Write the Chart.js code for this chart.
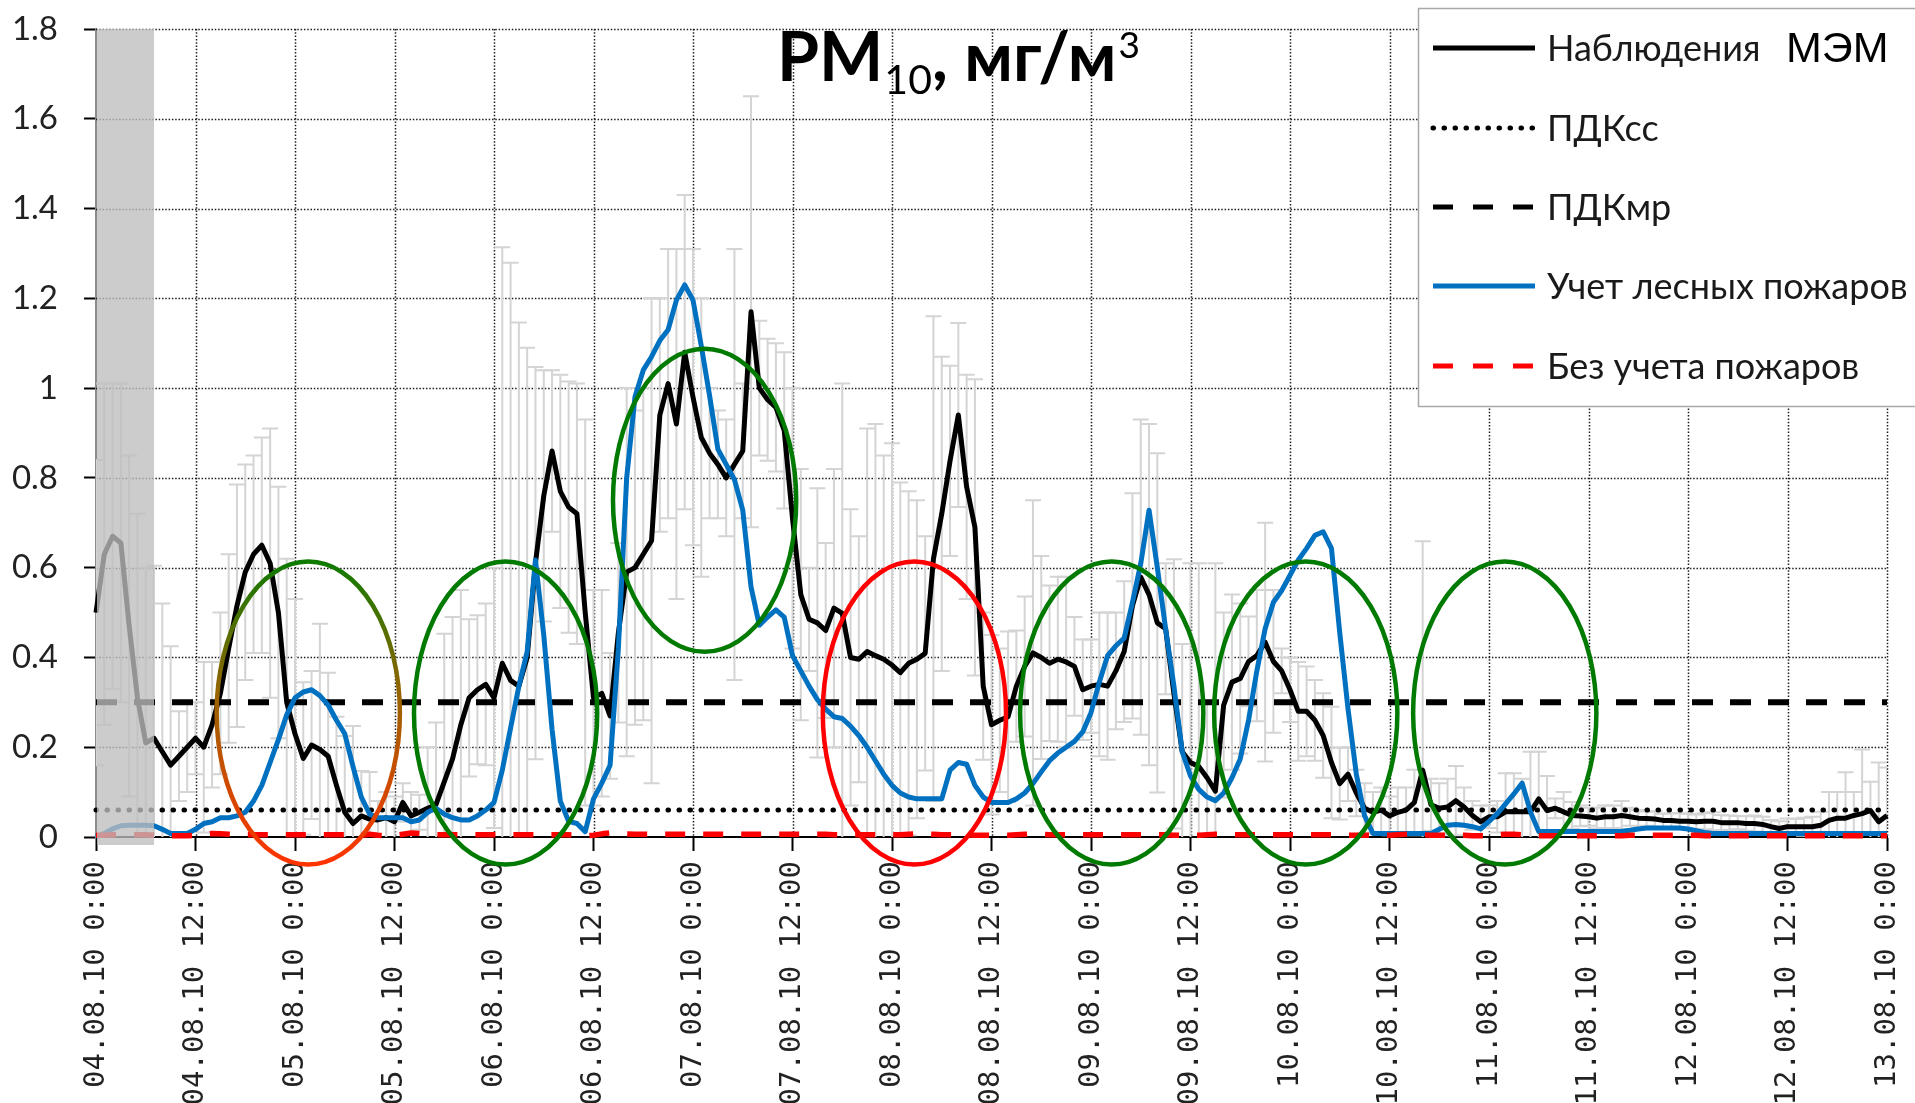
<!DOCTYPE html>
<html><head><meta charset="utf-8">
<script src="https://cdn.jsdelivr.net/npm/chart.js@4.4.1/dist/chart.umd.min.js"></script>
<style>html,body{margin:0;padding:0;background:#fff;overflow:hidden}#wrap{width:1915px;height:1103px;position:relative}</style>
</head><body><div id="wrap"><canvas id="c" width="1915" height="1103"></canvas></div>
<script>
// ---------------- DATA ----------------
const tickLabels = ['04.08.10 0:00','04.08.10 12:00','05.08.10 0:00','05.08.10 12:00','06.08.10 0:00','06.08.10 12:00',
  '07.08.10 0:00','07.08.10 12:00','08.08.10 0:00','08.08.10 12:00','09.08.10 0:00','09.08.10 12:00',
  '10.08.10 0:00','10.08.10 12:00','11.08.10 0:00','11.08.10 12:00','12.08.10 0:00','12.08.10 12:00','13.08.10 0:00'];
const xTickHours = [0,12,24,36,48,60,72,84,96,108,120,132,144,156,168,180,192,204,216];
const yTickValues = [0,0.2,0.4,0.6,0.8,1,1.2,1.4,1.6,1.8];
const seriesNames = ['Наблюдения','ПДКсс','ПДКмр','Учет лесных пожаров','Без учета пожаров'];
const titleParts = ['PM','10',', мг/м','3'];
const modelLabel = 'МЭМ';

// hourly observations (black)
const obs = [
 0.50,0.63,0.67,0.655,0.47,0.31,0.21,0.22,0.19,0.16,0.18,0.20,
 0.22,0.20,0.25,0.32,0.42,0.515,0.59,0.63,0.65,0.61,0.50,0.30,
 0.23,0.175,0.205,0.195,0.18,0.115,0.055,0.03,0.047,0.04,0.038,0.043,
 0.034,0.077,0.047,0.055,0.064,0.072,0.123,0.174,0.25,0.31,0.328,0.34,
 0.31,0.387,0.349,0.336,0.40,0.61,0.76,0.86,0.77,0.735,0.72,0.50,
 0.31,0.32,0.27,0.455,0.59,0.60,0.63,0.66,0.94,1.01,0.92,1.08,
 0.98,0.89,0.855,0.83,0.80,0.83,0.86,1.17,1.00,0.974,0.957,0.906,
 0.71,0.54,0.485,0.477,0.46,0.51,0.498,0.40,0.396,0.413,0.404,0.396,
 0.383,0.366,0.387,0.396,0.409,0.62,0.72,0.838,0.94,0.78,0.69,0.336,
 0.25,0.26,0.268,0.336,0.38,0.41,0.40,0.387,0.396,0.39,0.38,0.328,
 0.336,0.34,0.336,0.37,0.413,0.515,0.579,0.54,0.477,0.464,0.319,0.19,
 0.166,0.157,0.132,0.102,0.294,0.345,0.353,0.391,0.404,0.434,0.391,0.37,
 0.328,0.28,0.28,0.26,0.226,0.166,0.119,0.14,0.098,0.064,0.055,0.06,
 0.047,0.055,0.06,0.077,0.149,0.072,0.064,0.067,0.081,0.067,0.048,0.034,
 0.045,0.045,0.056,0.057,0.056,0.056,0.085,0.059,0.064,0.056,0.048,0.047,
 0.045,0.042,0.045,0.045,0.048,0.045,0.042,0.041,0.04,0.037,0.037,0.035,
 0.035,0.034,0.035,0.035,0.032,0.032,0.032,0.03,0.03,0.028,0.023,0.019,
 0.023,0.023,0.023,0.023,0.026,0.037,0.042,0.042,0.048,0.052,0.059,0.034,
 0.048];
// error half-widths of observations (grey bars)
const obsErr = [
 0.34,0.38,0.34,0.355,0.38,0.41,0.39,0.384,0.33,0.265,0.10,0.10,
 0.08,0.19,0.14,0.18,0.21,0.27,0.24,0.22,0.24,0.30,0.28,0.32,
 0.30,0.17,0.165,0.28,0.186,0.153,0.17,0.217,0.10,0.105,0.042,0.057,
 0.056,0.043,0.053,0.039,0.136,0.183,0.33,0.316,0.30,0.175,0.166,0.18,
 0.29,0.927,0.93,0.81,0.69,0.437,0.28,0.18,0.26,0.28,0.29,0.43,
 0.24,0.23,0.14,0.20,0.41,0.35,0.37,0.54,0.26,0.30,0.39,0.35,
 0.33,0.31,0.145,0.12,0.13,0.48,0.15,0.48,0.15,0.136,0.143,0.174,
 0.29,0.28,0.115,0.30,0.195,0.31,0.512,0.33,0.274,0.497,0.516,0.454,
 0.494,0.424,0.383,0.354,0.261,0.54,0.35,0.212,0.205,0.25,0.33,0.164,
 0.20,0.16,0.19,0.124,0.156,0.34,0.226,0.173,0.184,0.19,0.11,0.112,
 0.104,0.16,0.164,0.13,0.157,0.251,0.351,0.38,0.378,0.146,0.30,0.24,
 0.444,0.453,0.17,0.508,0.206,0.195,0.167,0.10,0.146,0.266,0.159,0.05,
 0.072,0.11,0.10,0.09,0.094,0.124,0.08,0.06,0.052,0.056,0.045,0.05,
 0.043,0.055,0.05,0.073,0.51,0.058,0.056,0.063,0.077,0.043,0.032,0.036,
 0.025,0.035,0.086,0.085,0.074,0.134,0.105,0.077,0.022,0.044,0.03,0.023,
 0.02,0.023,0.025,0.025,0.032,0.02,0.018,0.016,0.017,0.015,0.016,0.018,
 0.017,0.016,0.018,0.02,0.017,0.016,0.015,0.016,0.018,0.017,0.015,0.016,
 0.018,0.017,0.02,0.022,0.03,0.063,0.058,0.102,0.052,0.143,0.064,0.132,
 0.107];
// model with forest fires (blue)
const fire = [
 0.0,0.008,0.018,0.025,0.026,0.026,0.026,0.025,0.017,0.008,0.008,0.008,
 0.017,0.03,0.034,0.043,0.043,0.047,0.055,0.08,0.115,0.166,0.217,0.272,
 0.31,0.323,0.328,0.315,0.294,0.26,0.23,0.157,0.089,0.051,0.043,0.043,
 0.043,0.043,0.034,0.038,0.055,0.064,0.051,0.043,0.038,0.038,0.047,0.06,
 0.077,0.149,0.243,0.336,0.413,0.617,0.45,0.24,0.08,0.035,0.03,0.012,
 0.085,0.12,0.16,0.42,0.80,0.98,1.04,1.07,1.106,1.13,1.196,1.23,
 1.196,1.094,0.983,0.864,0.83,0.796,0.728,0.557,0.472,0.49,0.506,0.49,
 0.404,0.37,0.336,0.306,0.285,0.268,0.264,0.247,0.226,0.2,0.17,0.14,
 0.115,0.098,0.089,0.085,0.085,0.085,0.085,0.149,0.166,0.162,0.115,0.089,
 0.077,0.077,0.077,0.085,0.098,0.119,0.145,0.17,0.187,0.2,0.213,0.234,
 0.277,0.345,0.404,0.426,0.443,0.523,0.609,0.728,0.60,0.464,0.336,0.19,
 0.136,0.106,0.089,0.081,0.098,0.132,0.174,0.26,0.37,0.464,0.523,0.549,
 0.583,0.617,0.643,0.672,0.68,0.643,0.455,0.285,0.14,0.047,0.008,0.008,
 0.008,0.008,0.008,0.008,0.008,0.008,0.017,0.026,0.028,0.026,0.023,0.018,
 0.035,0.052,0.074,0.096,0.12,0.056,0.012,0.012,0.012,0.012,0.012,0.012,
 0.012,0.012,0.012,0.012,0.013,0.015,0.018,0.02,0.02,0.02,0.02,0.02,
 0.018,0.014,0.01,0.008,0.008,0.008,0.008,0.008,0.008,0.008,0.008,0.008,
 0.008,0.008,0.008,0.008,0.008,0.008,0.008,0.008,0.008,0.008,0.008,0.008,
 0.008];
// model without fires (red)
const nofire = [
 0.004,0.004,0.005,0.005,0.005,0.005,0.005,0.004,0.003,0.003,0.003,0.003,
 0.004,0.006,0.008,0.007,0.006,0.005,0.005,0.005,0.005,0.005,0.005,0.005,
 0.005,0.005,0.005,0.005,0.005,0.005,0.005,0.005,0.004,0.006,0.004,0.003,
 0.003,0.006,0.009,0.008,0.006,0.005,0.005,0.005,0.005,0.005,0.005,0.005,
 0.005,0.005,0.005,0.005,0.005,0.005,0.005,0.005,0.005,0.005,0.004,0.003,
 0.004,0.007,0.009,0.008,0.007,0.006,0.006,0.006,0.006,0.006,0.006,0.006,
 0.006,0.006,0.006,0.006,0.006,0.006,0.006,0.006,0.006,0.006,0.006,0.006,
 0.006,0.006,0.006,0.006,0.006,0.005,0.005,0.005,0.005,0.005,0.005,0.005,
 0.005,0.005,0.006,0.007,0.007,0.006,0.005,0.005,0.005,0.005,0.004,0.004,
 0.004,0.004,0.004,0.005,0.006,0.007,0.006,0.005,0.005,0.005,0.005,0.005,
 0.005,0.005,0.005,0.005,0.005,0.005,0.005,0.005,0.005,0.005,0.004,0.004,
 0.004,0.004,0.005,0.006,0.006,0.005,0.005,0.005,0.005,0.005,0.005,0.005,
 0.005,0.005,0.005,0.005,0.005,0.005,0.005,0.004,0.004,0.004,0.004,0.004,
 0.004,0.005,0.006,0.006,0.005,0.004,0.004,0.004,0.004,0.004,0.003,0.003,
 0.003,0.005,0.006,0.006,0.005,0.004,0.003,0.003,0.003,0.003,0.003,0.003,
 0.003,0.003,0.003,0.003,0.003,0.004,0.004,0.004,0.004,0.004,0.004,0.004,
 0.004,0.004,0.003,0.003,0.003,0.003,0.003,0.003,0.003,0.003,0.003,0.003,
 0.003,0.003,0.003,0.003,0.003,0.003,0.003,0.003,0.003,0.003,0.003,0.003,
 0.003];
const PDK_SS = 0.06;
const PDK_MR = 0.3;
const shadeRange = [0, 7];           // shaded hours at start
// annotation ellipses (hour centre, value centre)
const ellipseHours  = [25.6, 49.4, 73.4, 98.7, 122.5, 145.9, 169.9];
const ellipseValues = [0.276, 0.276, 0.75, 0.276, 0.276, 0.276, 0.276];
const ellipseKinds  = ['mixed','green','green','red','green','green','green'];

// ---------------- STYLE ----------------
const hours = obs.map((_, i) => i);
const ELL_RX_H = 11.05, ELL_RY_V = 0.3375;
const FONT_UI = 'Lato, "Noto Sans", sans-serif';
const styles = [
  {color:'#000000', width:5,   dash:[],        cap:'butt'},
  {color:'#000000', width:5,   dash:[0.5,10.5], cap:'round'},
  {color:'#000000', width:6,   dash:[21,17],   cap:'butt'},
  {color:'#0070c0', width:5,   dash:[],        cap:'butt'},
  {color:'#ff0000', width:5.5, dash:[20,18],   cap:'butt'}
];

const bgPlugin = { id:'bg', beforeDraw(chart){ const c = chart.ctx; c.save(); c.fillStyle='#fff'; c.fillRect(0,0,chart.width,chart.height); c.restore(); } };

const gridPlugin = {
  id:'gridErr',
  beforeDatasetsDraw(chart){
    const {ctx, chartArea:a, scales:{x, y}} = chart;
    ctx.save();
    ctx.strokeStyle = '#1e1e1e'; ctx.lineWidth = 1.5; ctx.setLineDash([1.5,1.8]);
    yTickValues.forEach(v => { if (v <= 0) return; const py = Math.round(y.getPixelForValue(v)) + 0.5;
      ctx.beginPath(); ctx.moveTo(a.left, py); ctx.lineTo(a.right, py); ctx.stroke(); });
    xTickHours.forEach(h => { if (h <= 0) return; const px = Math.round(x.getPixelForValue(h)) + 0.5;
      ctx.beginPath(); ctx.moveTo(px, a.top); ctx.lineTo(px, a.bottom); ctx.stroke(); });
    ctx.restore();
    ctx.save();
    ctx.beginPath(); ctx.rect(a.left, a.top, a.right - a.left, a.bottom - a.top); ctx.clip();
    ctx.strokeStyle = '#d4d4d4'; ctx.lineWidth = 2;
    obs.forEach((v, i) => {
      const e = obsErr[i]; if (!e) return;
      const px = x.getPixelForValue(hours[i]);
      const t = y.getPixelForValue(v + e), b = y.getPixelForValue(v - e);
      ctx.beginPath();
      ctx.moveTo(px, t); ctx.lineTo(px, b);
      ctx.moveTo(px - 8, t); ctx.lineTo(px + 8, t);
      ctx.moveTo(px - 8, b); ctx.lineTo(px + 8, b);
      ctx.stroke();
    });
    ctx.restore();
  }
};

const overlayPlugin = {
  id:'overlay',
  afterDatasetsDraw(chart){
    const {ctx, chartArea:a, scales:{x, y}} = chart;
    ctx.save();
    ctx.fillStyle = 'rgba(190,190,190,0.78)';
    const x0 = x.getPixelForValue(shadeRange[0]) + 1, x1 = x.getPixelForValue(shadeRange[1]);
    ctx.fillRect(x0, a.top, x1 - x0, a.bottom + 8 - a.top);
    ellipseHours.forEach((h, i) => {
      const cx = x.getPixelForValue(h), cy = y.getPixelForValue(ellipseValues[i]);
      const rx = x.getPixelForValue(h + ELL_RX_H) - cx;
      const ry = cy - y.getPixelForValue(ellipseValues[i] + ELL_RY_V);
      let stroke;
      if (ellipseKinds[i] === 'mixed') {
        stroke = ctx.createLinearGradient(0, cy - ry, 0, cy + ry);
        stroke.addColorStop(0, '#0e7a00'); stroke.addColorStop(0.45, '#9a6400'); stroke.addColorStop(1, '#ff3300');
      } else stroke = ellipseKinds[i] === 'red' ? '#ff0000' : '#007a00';
      ctx.strokeStyle = stroke; ctx.lineWidth = 4.5;
      ctx.beginPath(); ctx.ellipse(cx, cy, rx, ry, 0, 0, Math.PI * 2); ctx.stroke();
    });
    ctx.restore();
  },
  afterDraw(chart){
    const ctx = chart.ctx;
    ctx.save();
    // title
    ctx.fillStyle = '#000'; ctx.textAlign = 'left'; ctx.textBaseline = 'alphabetic';
    let tx = 777;
    ctx.font = 'bold 68px ' + FONT_UI; ctx.fillText(titleParts[0], tx, 81); tx += ctx.measureText(titleParts[0]).width + 1;
    ctx.font = '41px ' + FONT_UI; ctx.fillText(titleParts[1], tx, 94); tx += ctx.measureText(titleParts[1]).width;
    ctx.font = 'bold 68px ' + FONT_UI; ctx.fillText(titleParts[2], tx, 81); tx += ctx.measureText(titleParts[2]).width + 2;
    ctx.font = '37px ' + FONT_UI; ctx.fillText(titleParts[3], tx, 58);
    // legend box
    ctx.fillStyle = '#fff'; ctx.fillRect(1418, 8, 500, 399);
    ctx.strokeStyle = '#a8a8a8'; ctx.lineWidth = 1.5; ctx.strokeRect(1418.5, 8.5, 500, 398);
    const ys = [48, 128, 207, 286, 366];
    seriesNames.forEach((name, i) => {
      const s = styles[i];
      ctx.save();
      ctx.strokeStyle = s.color; ctx.lineWidth = 5; ctx.lineCap = s.cap === 'round' ? 'round' : 'butt';
      ctx.setLineDash(i === 1 ? [0.5, 10.5] : (s.dash.length ? [20, 20] : []));
      ctx.beginPath(); ctx.moveTo(1433, ys[i]); ctx.lineTo(1535, ys[i]); ctx.stroke();
      ctx.restore();
      ctx.fillStyle = '#1a1a1a'; ctx.font = '36px ' + FONT_UI; ctx.textBaseline = 'middle';
      ctx.fillText(name, 1547, ys[i] + 1);
    });
    ctx.fillStyle = '#000'; ctx.textBaseline = 'alphabetic';
    ctx.font = '43px "Liberation Sans", Arial, sans-serif';
    ctx.fillText(modelLabel, 1786, 62);
    ctx.restore();
  }
};

const lineDs = (label, data, i, order) => ({
  label, data, order, borderColor: styles[i].color, borderWidth: styles[i].width,
  borderDash: styles[i].dash, borderCapStyle: styles[i].cap, borderJoinStyle: 'round',
  pointRadius: 0, tension: 0, fill: false, clip: false
});

new Chart(document.getElementById('c'), {
  type: 'line',
  data: {
    labels: hours,
    datasets: [
      lineDs(seriesNames[0], obs, 0, 3),
      lineDs(seriesNames[1], [{x: xTickHours[0], y: PDK_SS}, {x: xTickHours[xTickHours.length-1], y: PDK_SS}], 1, 4),
      lineDs(seriesNames[2], [{x: xTickHours[0], y: PDK_MR}, {x: xTickHours[xTickHours.length-1], y: PDK_MR}], 2, 2),
      lineDs(seriesNames[3], fire, 3, 1),
      lineDs(seriesNames[4], nofire, 4, 0)
    ]
  },
  options: {
    responsive: false, animation: false, devicePixelRatio: 1,
    layout: { padding: { top: 29, right: 28, left: 0, bottom: 0 } },
    plugins: { legend: { display: false }, title: { display: false }, tooltip: { enabled: false } },
    scales: {
      x: {
        type: 'linear', min: 0, max: 216,
        afterBuildTicks: s => { s.ticks = xTickHours.map(v => ({ value: v })); },
        afterFit: s => { s.height = 266; s.paddingLeft = 0; s.paddingRight = 0; },
        border: { color: '#000', width: 2 },
        grid: { drawOnChartArea: false, drawTicks: true, tickLength: 14, tickColor: '#000', tickWidth: 2 },
        ticks: {
          autoSkip: false, minRotation: 90, maxRotation: 90, padding: 10, color: '#222',
          font: { family: '"DejaVu Sans Mono", monospace', size: 29 },
          callback: v => tickLabels[xTickHours.indexOf(v)] ?? ''
        }
      },
      y: {
        min: 0, max: 1.8,
        afterBuildTicks: s => { s.ticks = yTickValues.map(v => ({ value: v })); },
        afterFit: s => { s.width = 96; s.paddingTop = 0; s.paddingBottom = 0; },
        border: { color: '#8c8c8c', width: 2 },
        grid: { drawOnChartArea: false, drawTicks: true, tickLength: 12, tickColor: '#000', tickWidth: 2 },
        ticks: { padding: 26, color: '#222', font: { family: FONT_UI, size: 33 },
          callback: v => String(Math.round(v * 10) / 10) }
      }
    }
  },
  plugins: [bgPlugin, gridPlugin, overlayPlugin]
});
</script></body></html>
